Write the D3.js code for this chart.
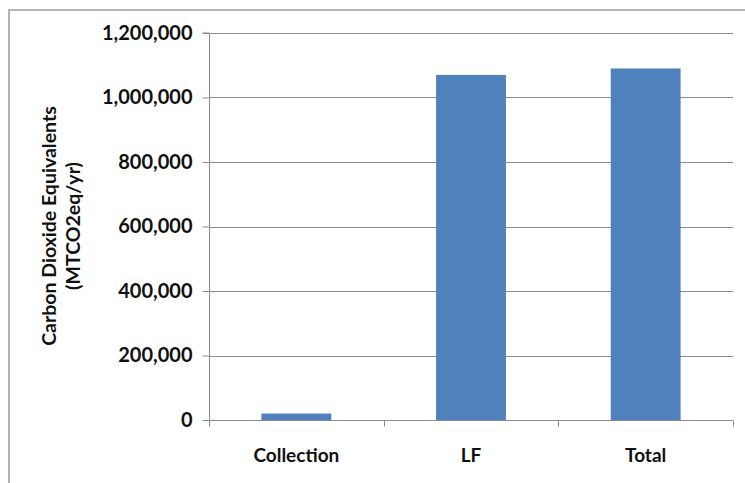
<!DOCTYPE html>
<html>
<head>
<meta charset="utf-8">
<script src="https://cdn.jsdelivr.net/npm/d3@7"></script>
<style>
  html, body { margin: 0; padding: 0; background: #fff; }
  svg { display: block; }
  text { font-family: Lato, "Open Sans", sans-serif; font-weight: bold; fill: #111; }
</style>
</head>
<body>
<svg id="chart" width="745" height="483"></svg>
<script>
// Annual CO2-equivalent emissions by source
const categories = ["Collection", "LF", "Total"];
const values = [20000, 1070000, 1090000];
const yTicks = [0, 200000, 400000, 600000, 800000, 1000000, 1200000];
const yTitle = ["Carbon Dioxide Equivalents", "(MTCO2eq/yr)"];

const svg = d3.select("#chart");
const W = 745, H = 483;
const plot = { left: 209, right: 733, top: 33, bottom: 420 };

// outer chart frame
svg.append("rect")
  .attr("x", 9).attr("y", 10)
  .attr("width", W + 20).attr("height", H + 20)
  .attr("fill", "#fff")
  .attr("stroke", "#b4b4b4").attr("stroke-width", 2);

const x = d3.scaleBand()
  .domain(categories)
  .range([plot.left, plot.right])
  .paddingInner(0.6).paddingOuter(0.3);

const y = d3.scaleLinear()
  .domain([0, 1200000])
  .range([plot.bottom, plot.top]);

const fmt = d3.format(",");

// horizontal gridlines
svg.append("g")
  .selectAll("line")
  .data(yTicks.filter(d => d > 0))
  .join("line")
  .attr("x1", plot.left).attr("x2", plot.right)
  .attr("y1", d => Math.round(y(d)) + 0.5).attr("y2", d => Math.round(y(d)) + 0.5)
  .attr("stroke", "#8c8c8c").attr("stroke-width", 1);

// bars
svg.append("g")
  .selectAll("rect")
  .data(values)
  .join("rect")
  .attr("x", (d, i) => x(categories[i]))
  .attr("width", x.bandwidth())
  .attr("y", d => y(d))
  .attr("height", d => y(0) - y(d))
  .attr("fill", "#4f81bd");

// y axis
const yAxis = d3.axisLeft(y)
  .tickValues(yTicks)
  .tickFormat(fmt)
  .tickSize(7)
  .tickPadding(10);

const gy = svg.append("g")
  .attr("transform", `translate(${plot.left + 0.5},0)`)
  .call(yAxis);
gy.select(".domain").attr("stroke", "#8c8c8c").attr("d", `M-7,${plot.top}H0V${plot.bottom + 6}`);
gy.selectAll(".tick line").attr("stroke", "#8c8c8c");
gy.selectAll(".tick text").attr("font-size", 20).attr("fill", "#111")
  .attr("font-family", "Lato, sans-serif").attr("font-weight", "bold");

// x axis with boundary ticks between categories
const gx = svg.append("g")
  .attr("transform", `translate(0,${plot.bottom + 0.5})`);
gx.append("line")
  .attr("x1", plot.left).attr("x2", plot.right)
  .attr("stroke", "#8c8c8c");
const step = x.step();
const bounds = d3.range(categories.length + 1).map(i => plot.left + i * step);
gx.selectAll(".bt")
  .data(bounds)
  .join("line")
  .attr("class", "bt")
  .attr("x1", d => Math.round(d) + 0.5).attr("x2", d => Math.round(d) + 0.5)
  .attr("y1", 0).attr("y2", 6)
  .attr("stroke", "#8c8c8c");
gx.selectAll(".cl")
  .data(categories)
  .join("text")
  .attr("class", "cl")
  .attr("x", d => x(d) + x.bandwidth() / 2)
  .attr("y", 41)
  .attr("text-anchor", "middle")
  .attr("font-size", 19)
  .text(d => d);

// y axis title
const title = svg.append("text")
  .attr("transform", "translate(0,226) rotate(-90)")
  .attr("text-anchor", "middle")
  .attr("font-size", 19.5);
title.selectAll("tspan")
  .data(yTitle)
  .join("tspan")
  .attr("x", 0)
  .attr("y", (d, i) => 56 + i * 24)
  .text(d => d);
</script>
</body>
</html>
